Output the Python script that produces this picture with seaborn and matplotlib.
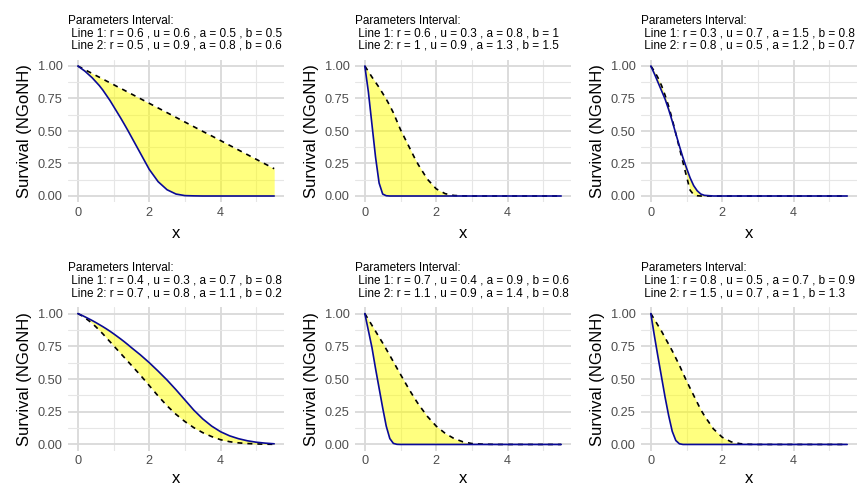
import matplotlib
matplotlib.use("Agg")
import matplotlib.pyplot as plt
from matplotlib.ticker import FixedLocator
import seaborn as sns
import pandas as pd

# Evaluation grid shared by every panel
x = [0, 0.1, 0.2, 0.3, 0.4, 0.5, 0.6, 0.7, 0.8, 0.9, 1.0, 1.1, 1.2, 1.3, 1.4, 1.5,
     1.75, 2.0, 2.25, 2.5, 2.75, 3.0, 3.25, 3.5, 3.75, 4.0, 4.25, 4.5, 4.75, 5.0, 5.25, 5.5]

# Parameter sets (r, u, a, b) for the two curves in each panel
line1_params = [(0.6, 0.6, 0.5, 0.5), (0.6, 0.3, 0.8, 1), (0.3, 0.7, 1.5, 0.8),
                (0.4, 0.3, 0.7, 0.8), (0.7, 0.4, 0.9, 0.6), (0.8, 0.5, 0.7, 0.9)]
line2_params = [(0.5, 0.9, 0.8, 0.6), (1, 0.9, 1.3, 1.5), (0.8, 0.5, 1.2, 0.7),
                (0.7, 0.8, 1.1, 0.2), (1.1, 0.9, 1.4, 0.8), (1.5, 0.7, 1, 1.3)]

# Survival values of Line 1 (solid) per panel
surv1_p1 = [1.0, 0.98, 0.96, 0.935, 0.91, 0.88, 0.85, 0.815, 0.775, 0.735, 0.69, 0.645, 0.6, 0.553, 0.505, 0.455,
            0.33, 0.205, 0.11, 0.048, 0.015, 0.003, 0.001, 0.0, 0.0, 0.0, 0.0, 0.0, 0.0, 0.0, 0.0, 0.0]
surv1_p2 = [1.0, 0.80, 0.55, 0.30, 0.10, 0.015, 0.002, 0.0, 0.0, 0.0, 0.0, 0.0, 0.0, 0.0, 0.0, 0.0,
            0.0, 0.0, 0.0, 0.0, 0.0, 0.0, 0.0, 0.0, 0.0, 0.0, 0.0, 0.0, 0.0, 0.0, 0.0, 0.0]
surv1_p3 = [1.0, 0.94, 0.875, 0.81, 0.745, 0.665, 0.575, 0.48, 0.385, 0.295, 0.215, 0.14, 0.08, 0.04, 0.015, 0.005,
            0.0, 0.0, 0.0, 0.0, 0.0, 0.0, 0.0, 0.0, 0.0, 0.0, 0.0, 0.0, 0.0, 0.0, 0.0, 0.0]
surv1_p4 = [1.0, 0.988, 0.975, 0.961, 0.947, 0.932, 0.916, 0.9, 0.883, 0.865, 0.846, 0.826, 0.806, 0.785, 0.763, 0.74,
            0.685, 0.625, 0.56, 0.492, 0.418, 0.34, 0.262, 0.195, 0.14, 0.097, 0.066, 0.044, 0.028, 0.017, 0.01, 0.005]
surv1_p5 = [1.0, 0.87, 0.74, 0.58, 0.43, 0.28, 0.14, 0.045, 0.008, 0.001, 0.0, 0.0, 0.0, 0.0, 0.0, 0.0,
            0.0, 0.0, 0.0, 0.0, 0.0, 0.0, 0.0, 0.0, 0.0, 0.0, 0.0, 0.0, 0.0, 0.0, 0.0, 0.0]
surv1_p6 = [1.0, 0.83, 0.67, 0.515, 0.36, 0.22, 0.10, 0.03, 0.005, 0.0, 0.0, 0.0, 0.0, 0.0, 0.0, 0.0,
            0.0, 0.0, 0.0, 0.0, 0.0, 0.0, 0.0, 0.0, 0.0, 0.0, 0.0, 0.0, 0.0, 0.0, 0.0, 0.0]

# Survival values of Line 2 (dashed) per panel
surv2_p1 = [1.0, 0.986, 0.971, 0.957, 0.943, 0.928, 0.914, 0.9, 0.885, 0.871, 0.857, 0.842, 0.828, 0.814, 0.799, 0.785,
            0.749, 0.713, 0.677, 0.641, 0.605, 0.569, 0.533, 0.497, 0.462, 0.426, 0.39, 0.354, 0.318, 0.282, 0.246, 0.21]
surv2_p2 = [1.0, 0.958, 0.915, 0.875, 0.835, 0.79, 0.745, 0.695, 0.64, 0.575, 0.51, 0.455, 0.40, 0.345, 0.29, 0.24,
            0.13, 0.055, 0.018, 0.004, 0.001, 0.0, 0.0, 0.0, 0.0, 0.0, 0.0, 0.0, 0.0, 0.0, 0.0, 0.0]
surv2_p3 = [1.0, 0.96, 0.91, 0.85, 0.775, 0.69, 0.59, 0.48, 0.37, 0.26, 0.15, 0.045, 0.01, 0.002, 0.0, 0.0,
            0.0, 0.0, 0.0, 0.0, 0.0, 0.0, 0.0, 0.0, 0.0, 0.0, 0.0, 0.0, 0.0, 0.0, 0.0, 0.0]
surv2_p4 = [1.0, 0.985, 0.967, 0.947, 0.925, 0.90, 0.873, 0.845, 0.815, 0.785, 0.755, 0.725, 0.695, 0.665, 0.635, 0.605,
            0.53, 0.45, 0.37, 0.295, 0.23, 0.175, 0.128, 0.09, 0.06, 0.036, 0.021, 0.012, 0.007, 0.004, 0.002, 0.001]
surv2_p5 = [1.0, 0.955, 0.91, 0.865, 0.82, 0.775, 0.728, 0.68, 0.632, 0.583, 0.535, 0.487, 0.44, 0.394, 0.35, 0.308,
            0.215, 0.14, 0.085, 0.045, 0.02, 0.007, 0.003, 0.001, 0.0, 0.0, 0.0, 0.0, 0.0, 0.0, 0.0, 0.0]
surv2_p6 = [1.0, 0.955, 0.91, 0.865, 0.815, 0.765, 0.715, 0.66, 0.605, 0.545, 0.485, 0.43, 0.375, 0.32, 0.265, 0.22,
            0.12, 0.055, 0.02, 0.006, 0.001, 0.0, 0.0, 0.0, 0.0, 0.0, 0.0, 0.0, 0.0, 0.0, 0.0, 0.0]

surv1 = [surv1_p1, surv1_p2, surv1_p3, surv1_p4, surv1_p5, surv1_p6]
surv2 = [surv2_p1, surv2_p2, surv2_p3, surv2_p4, surv2_p5, surv2_p6]

y_ticks = [0.0, 0.25, 0.5, 0.75, 1.0]
y_tick_labels = ["0.00", "0.25", "0.50", "0.75", "1.00"]
x_ticks = [0, 2, 4]


def fmt(v):
    return f"{v:g}"


def param_title(p1, p2):
    l1 = "Line 1: r = {} , u = {} , a = {} , b = {}".format(*[fmt(v) for v in p1])
    l2 = "Line 2: r = {} , u = {} , a = {} , b = {}".format(*[fmt(v) for v in p2])
    return "Parameters Interval:\n " + l1 + "\n " + l2


sns.set_theme(style="whitegrid")
plt.rcParams["font.family"] = ["Liberation Sans", "DejaVu Sans"]

fig = plt.figure(figsize=(8.57, 4.87), dpi=100)
W, H = 857.0, 487.0
col_left = [68, 355, 641]
row_top = [59.5, 307]
row_h = [143, 144]
xlabel_pad = [5, 2.5]
pw = 216

for i in range(6):
    r, c = divmod(i, 3)
    left = col_left[c] / W
    bottom = 1 - (row_top[r] + row_h[r]) / H
    ax = fig.add_axes([left, bottom, pw / W, row_h[r] / H])

    df = pd.DataFrame({"x": x, "s1": surv1[i], "s2": surv2[i]})
    ax.fill_between(df["x"], df["s1"], df["s2"], color="yellow", alpha=0.5, lw=0, zorder=2)
    sns.lineplot(data=df, x="x", y="s2", ax=ax, color="black", linestyle=(0, (3, 3)),
                 linewidth=1.2, zorder=3)
    sns.lineplot(data=df, x="x", y="s1", ax=ax, color="#0A0A96", linewidth=1.2, zorder=4)

    ax.set_xlim(-0.275, 5.775)
    ax.set_ylim(-0.05, 1.05)
    ax.xaxis.set_major_locator(FixedLocator(x_ticks))
    ax.xaxis.set_minor_locator(FixedLocator([1, 3, 5]))
    ax.yaxis.set_major_locator(FixedLocator(y_ticks))
    ax.yaxis.set_minor_locator(FixedLocator([0.125, 0.375, 0.625, 0.875]))
    ax.set_yticklabels(y_tick_labels)
    ax.set_xticklabels([str(t) for t in x_ticks])

    ax.set_facecolor("white")
    for s in ax.spines.values():
        s.set_visible(False)
    ax.grid(which="major", color="#D9D9D9", linewidth=1.3, zorder=0)
    ax.grid(which="minor", color="#E6E6E6", linewidth=0.8, zorder=0)
    ax.set_axisbelow(True)
    ax.tick_params(axis="both", which="both", length=0, labelsize=9.2, labelcolor="#4D4D4D")
    ax.tick_params(axis="y", pad=4)
    ax.tick_params(axis="x", pad=3)

    ax.set_xlabel("x", fontsize=12, color="black", labelpad=xlabel_pad[r])
    ax.set_ylabel("Survival (NGoNH)", fontsize=12, color="black", labelpad=4)
    ax.set_title(param_title(line1_params[i], line2_params[i]), loc="left",
                 fontsize=8.5, linespacing=1.07, pad=7.7, color="black")

fig.savefig("out.png", dpi=100)
